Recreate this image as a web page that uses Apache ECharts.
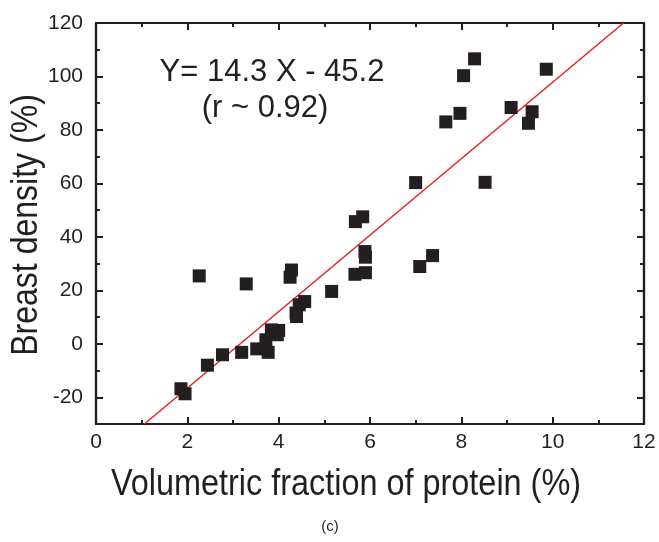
<!DOCTYPE html>
<html>
<head>
<meta charset="utf-8">
<script src="https://cdn.jsdelivr.net/npm/echarts@6/dist/echarts.min.js"></script>
<style>html,body{margin:0;padding:0;background:#fff;}#c{width:659px;height:542px;}</style>
</head>
<body>
<div id="c"></div>
<script>
// Data
const proteinFraction = [1.86,1.95,2.26,2.44,2.77,3.19,3.29,3.52,3.72,3.77,3.84,3.97,4.00,4.25,4.28,4.39,4.38,4.45,4.57,5.16,5.68,5.67,5.84,5.89,5.90,5.90,7.00,7.09,7.37,7.66,7.97,8.05,8.29,8.52,9.09,9.47,9.55,9.86];
const breastDensity   = [-16.8,-18.7,25.4,-8.0,-4.1,-3.2,22.4,-1.9,1.5,-3.2,5.2,3.4,5.0,24.9,27.6,10.2,11.5,14.6,15.8,19.6,45.7,26.0,47.5,34.5,32.4,26.6,60.3,28.9,33.0,83.0,86.2,100.3,106.6,60.4,88.4,82.5,86.8,102.7];
const fitX = [1.06, 11.55];
const fitY = [-30, 120];
const xTicks = [0,2,4,6,8,10,12];
const yTicks = [-20,0,20,40,60,80,100,120];
const yMinorTicks = [-10,10,30,50,70,90,110];
const equationText = 'Y= 14.3 X - 45.2';
const rText = '(r ~ 0.92)';
const xTitle = 'Volumetric fraction of protein (%)';
const yTitle = 'Breast density (%)';
const panelLabel = '(c)';

const FONT = 'Liberation Sans, Arial, sans-serif';
const INK = '#231f20';
const chart = echarts.init(document.getElementById('c'), null, {renderer:'canvas'});
const lineStyle = {color: INK, width: 2.2};

function yAxisDef(pos, vals, len, labels) {
  return {
    type:'value', position:pos, min:-30, max:120,
    axisLine:{show:true, onZero:false, lineStyle},
    axisTick:{show:true, inside:true, length:len, customValues:vals, lineStyle:{color:INK,width:2}},
    axisLabel:{show:labels, customValues:vals, fontFamily:FONT, fontSize:21, color:INK, margin:13},
    splitLine:{show:false}
  };
}

const option = {
  animation:false,
  backgroundColor:'#fff',
  grid:{left:96, right:15, top:23, bottom:118, containLabel:false},
  xAxis:[
    {type:'value', position:'bottom', min:0, max:12, interval:2,
     axisLine:{show:true, onZero:false, lineStyle},
     axisTick:{show:true, inside:true, length:7, lineStyle:{color:INK,width:2}},
     minorTick:{show:true, splitNumber:2, length:4, lineStyle:{color:INK,width:2}},
     axisLabel:{fontFamily:FONT, fontSize:21, color:INK, margin:8,
       formatter:v => xTicks.includes(v) ? String(v) : ''},
     splitLine:{show:false}},
    {type:'value', position:'top', min:0, max:12, interval:2,
     axisLine:{show:true, onZero:false, lineStyle},
     axisTick:{show:true, inside:true, length:7, lineStyle:{color:INK,width:2}},
     minorTick:{show:true, splitNumber:2, length:4, lineStyle:{color:INK,width:2}},
     axisLabel:{show:false}, splitLine:{show:false}}
  ],
  yAxis:[
    yAxisDef('left', yTicks, 7, true),
    yAxisDef('left', yMinorTicks, 4, false),
    yAxisDef('right', yTicks, 7, false),
    yAxisDef('right', yMinorTicks, 4, false)
  ],
  series:[
    {type:'line', xAxisIndex:0, yAxisIndex:0,
     data: fitX.map((x,i)=>[x, fitY[i]]),
     showSymbol:false, symbol:'none', clip:true,
     lineStyle:{color:'#e8232a', width:1.6}, z:2},
    {type:'scatter', xAxisIndex:0, yAxisIndex:0,
     data: proteinFraction.map((x,i)=>[x, breastDensity[i]]),
     symbol:'rect', symbolSize:13, itemStyle:{color:INK, opacity:1}, z:3}
  ],
  graphic:[
    {type:'text', x:272, y:72, style:{text:equationText, font:'31px '+FONT, fill:INK, textAlign:'center', textVerticalAlign:'middle'}},
    {type:'text', x:265, y:108, style:{text:rText, font:'31px '+FONT, fill:INK, textAlign:'center', textVerticalAlign:'middle'}},
    {type:'text', x:346, y:485, scaleX:0.9, style:{text:xTitle, font:'36px '+FONT, fill:INK, textAlign:'center', textVerticalAlign:'middle'}},
    {type:'text', x:27, y:225, rotation:Math.PI/2, scaleX:0.89, style:{text:yTitle, font:'36px '+FONT, fill:INK, textAlign:'center', textVerticalAlign:'middle'}},
    {type:'text', x:330, y:527, style:{text:panelLabel, font:'15px '+FONT, fill:INK, textAlign:'center', textVerticalAlign:'middle'}}
  ]
};
chart.setOption(option);
</script>
</body>
</html>
